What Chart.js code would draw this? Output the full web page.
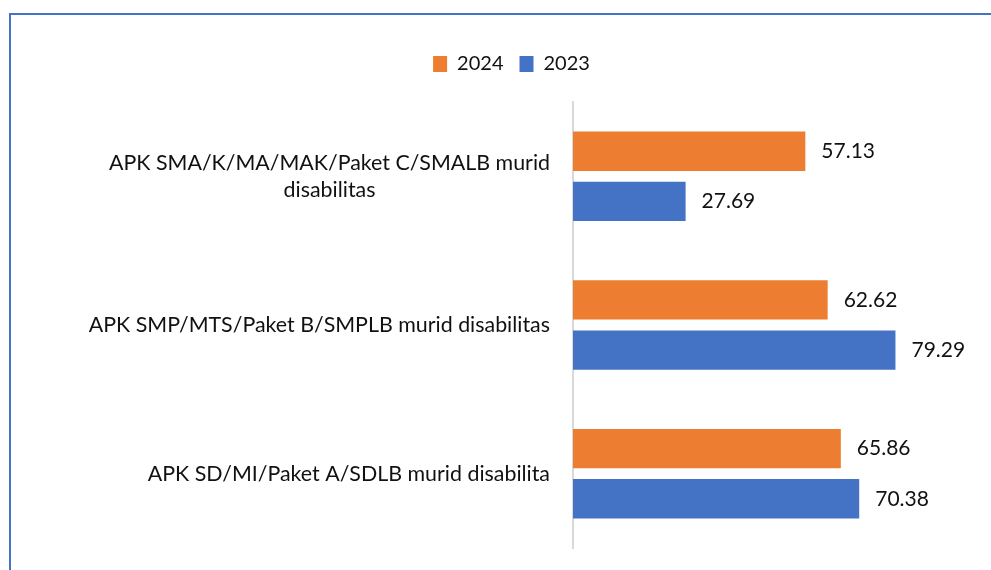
<!DOCTYPE html>
<html>
<head>
<meta charset="utf-8">
<script src="https://cdn.jsdelivr.net/npm/chart.js@4.4.1/dist/chart.umd.min.js"></script>
<style>
  body { margin: 0; background: #fff; overflow: hidden; }
  #wrap { position: relative; width: 991px; height: 570px; }
  #frame { position: absolute; left: 9px; top: 13px; width: 1000px; height: 600px;
           border: 2px solid #4472C4; pointer-events: none; }
</style>
</head>
<body>
<div id="wrap">
  <canvas id="barchart" width="991" height="570"></canvas>
  <div id="frame"></div>
</div>
<script>
// data
var categories = [
  ["APK SMA/K/MA/MAK/Paket C/SMALB murid", "disabilitas"],
  ["APK SMP/MTS/Paket B/SMPLB murid disabilitas"],
  ["APK SD/MI/Paket A/SDLB murid disabilita"]
];
var seriesNames = ["2024", "2023"];
var values2024 = [57.13, 62.62, 65.86];
var values2023 = [27.69, 79.29, 70.38];
var xMax = 90;

var FONT = "Lato, 'Open Sans', sans-serif";
var PAD_LEFT = 84;

// taller legend block so the plot starts below it
var legendGap = {
  id: 'legendGap',
  beforeInit: function (chart) {
    var fit = chart.legend.fit;
    chart.legend.fit = function () {
      fit.bind(chart.legend)();
      this.height = 64;
    };
  }
};

// category labels: right aligned block, lines centred inside it
var catLabels = {
  id: 'catLabels',
  afterDraw: function (chart) {
    var ctx = chart.ctx;
    var y = chart.scales.y;
    ctx.save();
    ctx.font = "21.4px " + FONT;
    ctx.fillStyle = "#111";
    ctx.textBaseline = "middle";
    ctx.textAlign = "center";
    var lineH = 27;
    categories.forEach(function (lines, i) {
      var w = Math.max.apply(null, lines.map(function (l) { return ctx.measureText(l).width; }));
      var right = y.right - 23;
      var cx = right - w / 2;
      var cy = y.getPixelForTick(i) - (lines.length - 1) * lineH / 2;
      lines.forEach(function (l, k) { ctx.fillText(l, cx, cy + k * lineH); });
    });
    ctx.restore();
  }
};

// value labels at the end of each bar
var valueLabels = {
  id: 'valueLabels',
  afterDatasetsDraw: function (chart) {
    var ctx = chart.ctx;
    ctx.save();
    ctx.font = "21px " + FONT;
    ctx.fillStyle = "#111";
    ctx.textBaseline = "middle";
    ctx.textAlign = "left";
    chart.data.datasets.forEach(function (ds, di) {
      chart.getDatasetMeta(di).data.forEach(function (bar, i) {
        ctx.fillText(ds.data[i].toFixed(2), bar.x + 16, bar.y);
      });
    });
    ctx.restore();
  }
};

new Chart(document.getElementById("barchart"), {
  type: 'bar',
  data: {
    labels: categories,
    datasets: [{
      label: seriesNames[0],
      backgroundColor: "#ED7D31",
      data: values2024,
      barPercentage: 0.785,
      categoryPercentage: 0.675
    }, {
      label: seriesNames[1],
      backgroundColor: "#4472C4",
      data: values2023,
      barPercentage: 0.785,
      categoryPercentage: 0.675
    }]
  },
  options: {
    indexAxis: 'y',
    responsive: false,
    animation: false,
    layout: { padding: { top: 38, left: PAD_LEFT, right: 52, bottom: 22 } },
    scales: {
      x: { display: false, min: 0, max: xMax },
      y: {
        offset: true,
        grid: { display: false, drawTicks: false },
        border: { display: true, color: "#D9D9D9", width: 2 },
        ticks: { display: false },
        afterFit: function (scale) { scale.width = 573 - PAD_LEFT; }
      }
    },
    plugins: {
      tooltip: { enabled: false },
      legend: {
        position: 'top',
        labels: {
          boxWidth: 14,
          boxHeight: 16,
          padding: 16,
          color: "#111",
          font: { size: 20, family: FONT }
        }
      }
    }
  },
  plugins: [legendGap, catLabels, valueLabels]
});
</script>
</body>
</html>
